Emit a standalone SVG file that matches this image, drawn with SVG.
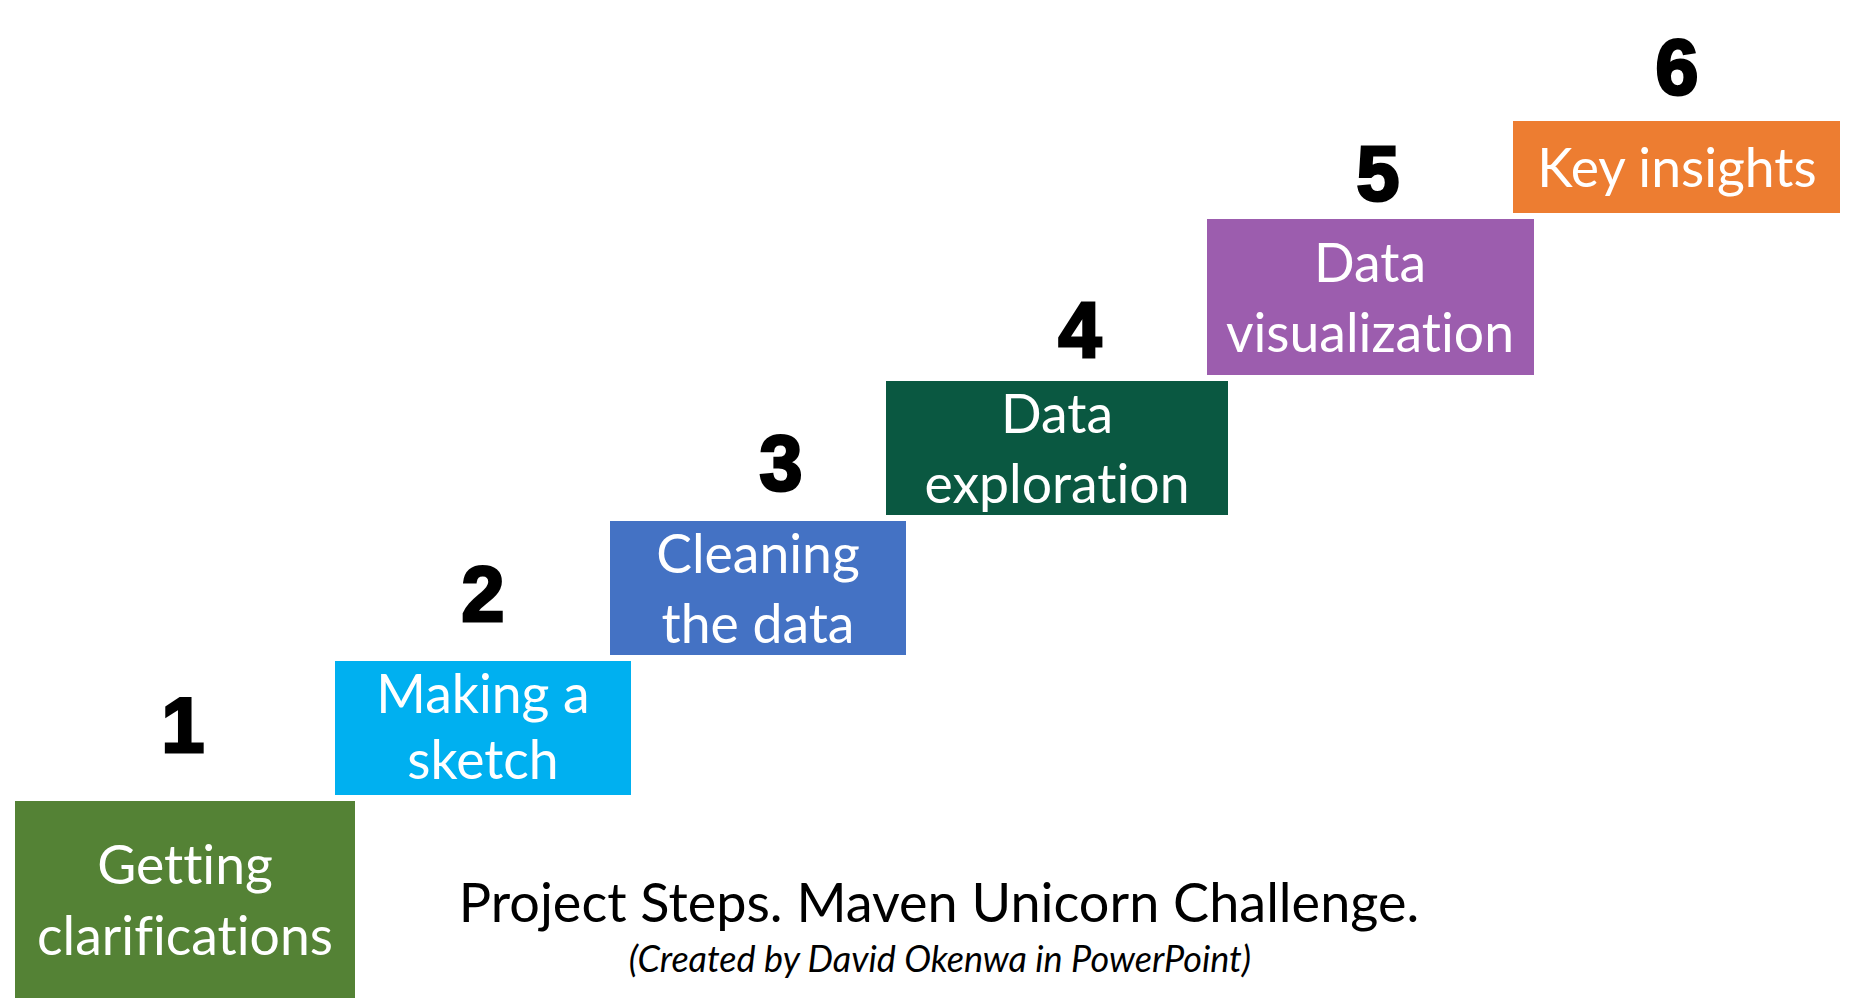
<svg xmlns="http://www.w3.org/2000/svg" width="1851" height="1006" viewBox="0 0 1851 1006">
<style>
.num{font-family:"Liberation Sans",Arial,sans-serif;font-weight:bold;font-size:77px;fill:#000;stroke:#000;stroke-width:3;text-anchor:middle}
.lbl{font-family:Lato,"Open Sans",sans-serif;font-size:53.5px;fill:#fff;text-anchor:middle;font-variant-ligatures:none}
.title{font-family:Lato,"Open Sans",sans-serif;font-size:54px;fill:#000;text-anchor:middle;font-variant-ligatures:none}
.sub{font-family:Lato,"Open Sans",sans-serif;font-size:36px;font-style:italic;fill:#000;text-anchor:middle;font-variant-ligatures:none}
</style>
<rect width="1851" height="1006" fill="#fff"/>
<g id="step1">
<rect x="15" y="801" width="340" height="197" fill="#548235"/>
<text class="lbl" x="185" y="884">Getting</text>
<text class="lbl" x="185" y="955">clarifications</text>
<text class="num" x="183" y="752">1</text>
</g>
<g id="step2">
<rect x="335" y="661" width="296" height="134" fill="#00B0F0"/>
<text class="lbl" x="483" y="713">Making a</text>
<text class="lbl" x="483" y="779">sketch</text>
<text class="num" x="483" y="621">2</text>
</g>
<g id="step3">
<rect x="610" y="521" width="296" height="134" fill="#4472C4"/>
<text class="lbl" x="758" y="573">Cleaning</text>
<text class="lbl" x="758" y="643">the data</text>
<text class="num" x="781" y="490">3</text>
</g>
<g id="step4">
<rect x="886" y="381" width="342" height="134" fill="#0A5841"/>
<text class="lbl" x="1057" y="433">Data</text>
<text class="lbl" x="1057" y="503">exploration</text>
<text class="num" x="1080" y="357">4</text>
</g>
<g id="step5">
<rect x="1207" y="219" width="327" height="156" fill="#9C5DAE"/>
<text class="lbl" x="1370" y="282">Data</text>
<text class="lbl" x="1370" y="352">visualization</text>
<text class="num" x="1378" y="200">5</text>
</g>
<g id="step6">
<rect x="1513" y="121" width="327" height="92" fill="#ED7D31"/>
<text class="lbl" x="1677" y="187">Key insights</text>
<text class="num" x="1677" y="94">6</text>
</g>
<g id="connectors"></g>
<g id="caption">
<text class="title" x="939" y="922">Project Steps. Maven Unicorn Challenge.</text>
<text class="sub" x="940" y="972">(Created by David Okenwa in PowerPoint)</text>
</g>
</svg>
